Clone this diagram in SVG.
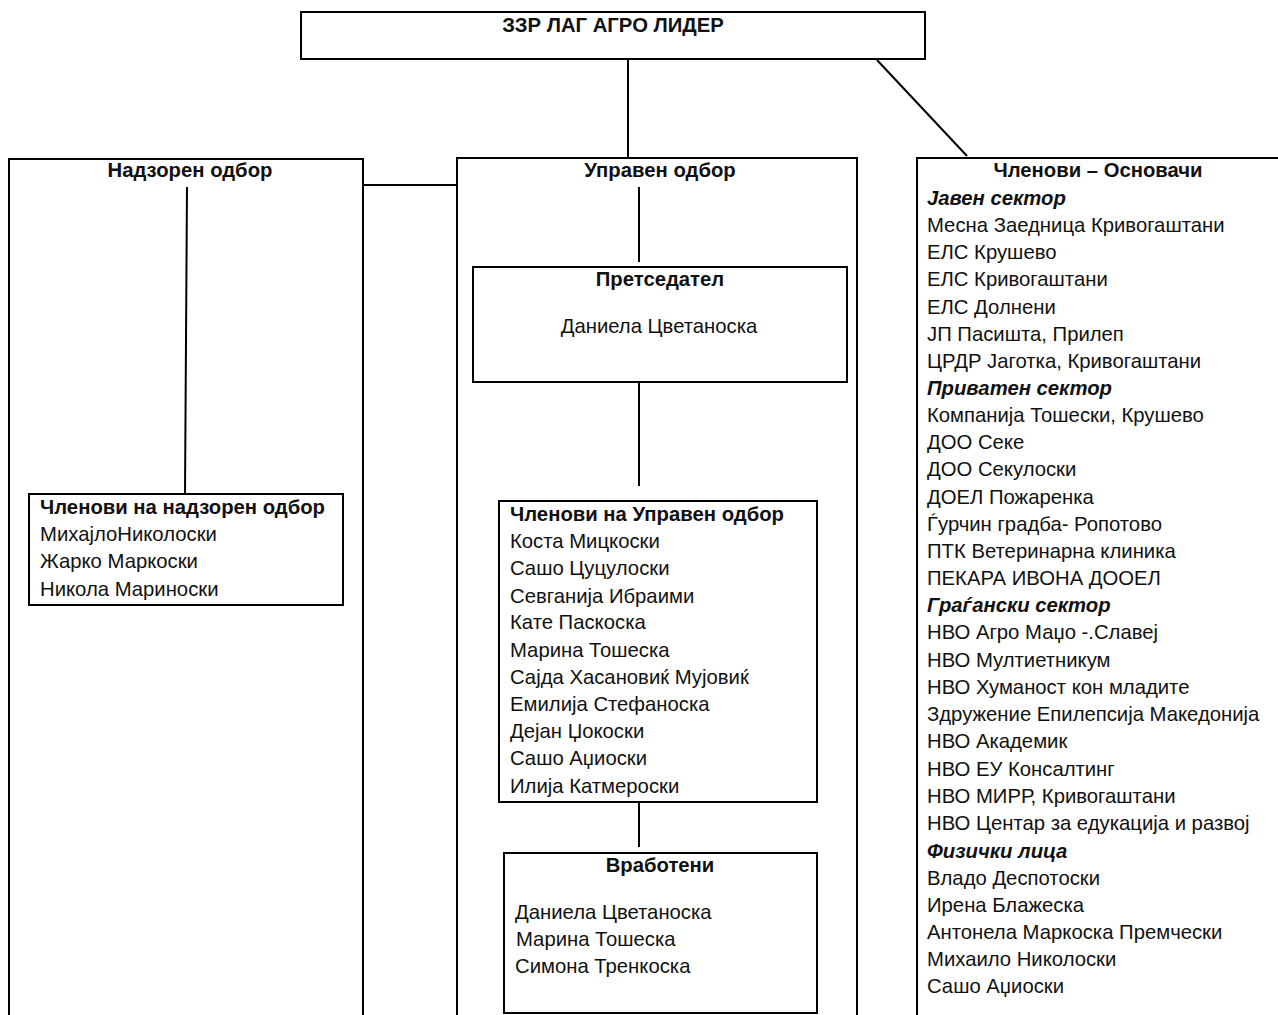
<svg xmlns="http://www.w3.org/2000/svg" width="1278" height="1015" viewBox="0 0 1278 1015">
<style>
  .box { fill: #ffffff; stroke: #000000; stroke-width: 2; }
  .conn { stroke: #000000; stroke-width: 2; fill: none; }
  text { font-family: "Liberation Sans", Arial, sans-serif; font-size: 20.3px; fill: #111111; }
  .b { font-weight: bold; }
  .bi { font-weight: bold; font-style: italic; }
  .c { text-anchor: middle; }
</style>
<rect width="1278" height="1015" fill="#ffffff"/>
<g id="root">
  <rect class="box" x="301" y="12" width="624" height="47"/>
  <text class="b c" x="613" y="32">ЗЗР ЛАГ АГРО ЛИДЕР</text>
</g>
<g id="supervisory">
  <rect class="box" x="9" y="159" width="354" height="900"/>
  <text class="b c" x="190" y="177">Надзорен одбор</text>
</g>
<g id="management">
  <rect class="box" x="457" y="158" width="400" height="900"/>
  <text class="b c" x="660" y="177">Управен одбор</text>
</g>
<g id="founders">
  <rect class="box" x="917" y="158" width="400" height="900"/>
  <text class="b c" x="1098" y="177">Членови – Основачи</text>
  <text class="bi" x="927" y="205">Јавен сектор</text>
  <text x="927" y="232">Месна Заедница Кривогаштани</text>
  <text x="927" y="259">ЕЛС Крушево</text>
  <text x="927" y="286">ЕЛС Кривогаштани</text>
  <text x="927" y="314">ЕЛС Долнени</text>
  <text x="927" y="341">ЈП Пасишта, Прилеп</text>
  <text x="927" y="368">ЦРДР Јаготка, Кривогаштани</text>
  <text class="bi" x="927" y="395">Приватен сектор</text>
  <text x="927" y="422">Компанија Тошески, Крушево</text>
  <text x="927" y="449">ДОО Секе</text>
  <text x="927" y="476">ДОО Секулоски</text>
  <text x="927" y="504">ДОЕЛ Пожаренка</text>
  <text x="927" y="531">Ѓурчин градба- Ропотово</text>
  <text x="927" y="558">ПТК Ветеринарна клиника</text>
  <text x="927" y="585">ПЕКАРА ИВОНА ДООЕЛ</text>
  <text class="bi" x="927" y="612">Граѓански сектор</text>
  <text x="927" y="639">НВО Агро Маџо -.Славеј</text>
  <text x="927" y="667">НВО Мултиетникум</text>
  <text x="927" y="694">НВО Хуманост кон младите</text>
  <text x="927" y="721">Здружение Епилепсија Македонија</text>
  <text x="927" y="748">НВО Академик</text>
  <text x="927" y="776">НВО ЕУ Консалтинг</text>
  <text x="927" y="803">НВО МИРР, Кривогаштани</text>
  <text x="927" y="830">НВО Центар за едукација и развој</text>
  <text class="bi" x="927" y="858">Физички лица</text>
  <text x="927" y="885">Владо Деспотоски</text>
  <text x="927" y="912">Ирена Блажеска</text>
  <text x="927" y="939">Антонела Маркоска Премчески</text>
  <text x="927" y="966">Михаило Николоски</text>
  <text x="927" y="993">Сашо Аџиоски</text>
</g>
<g id="supervisory-members">
  <rect class="box" x="29" y="494" width="314" height="111"/>
  <text class="b" x="40" y="514">Членови на надзорен одбор</text>
  <text x="40" y="541">МихајлоНиколоски</text>
  <text x="40" y="568">Жарко Маркоски</text>
  <text x="40" y="596">Никола Мариноски</text>
</g>
<g id="president">
  <rect class="box" x="473" y="267" width="374" height="115"/>
  <text class="b c" x="660" y="286">Претседател</text>
  <text class="c" x="659" y="333">Даниела Цветаноска</text>
</g>
<g id="management-members">
  <rect class="box" x="499" y="501" width="318" height="301"/>
  <text class="b" x="510" y="521">Членови на Управен одбор</text>
  <text x="510" y="548">Коста Мицкоски</text>
  <text x="510" y="575">Сашо Цуцулоски</text>
  <text x="510" y="603">Севганија Ибраими</text>
  <text x="510" y="629">Кате Паскоска</text>
  <text x="510" y="657">Марина Тошеска</text>
  <text x="510" y="684">Сајда Хасановиќ Мујовиќ</text>
  <text x="510" y="711">Емилија Стефаноска</text>
  <text x="510" y="738">Дејан Џокоски</text>
  <text x="510" y="765">Сашо Аџиоски</text>
  <text x="510" y="793">Илија Катмероски</text>
</g>
<g id="employees">
  <rect class="box" x="504" y="853" width="313" height="160"/>
  <text class="b c" x="660" y="872">Вработени</text>
  <text x="515" y="919">Даниела Цветаноска</text>
  <text x="516" y="946">Марина Тошеска</text>
  <text x="515" y="973">Симона Тренкоска</text>
</g>
<g id="connectors">
  <line class="conn" x1="628" y1="59" x2="628" y2="158"/>
  <line class="conn" x1="877" y1="60" x2="967" y2="156"/>
  <line class="conn" x1="363" y1="185" x2="457" y2="185"/>
  <line class="conn" x1="187" y1="187" x2="185" y2="494"/>
  <line class="conn" x1="639" y1="187" x2="639" y2="262"/>
  <line class="conn" x1="639" y1="382" x2="639" y2="486"/>
  <line class="conn" x1="639" y1="802" x2="639" y2="847"/>
</g>
</svg>
